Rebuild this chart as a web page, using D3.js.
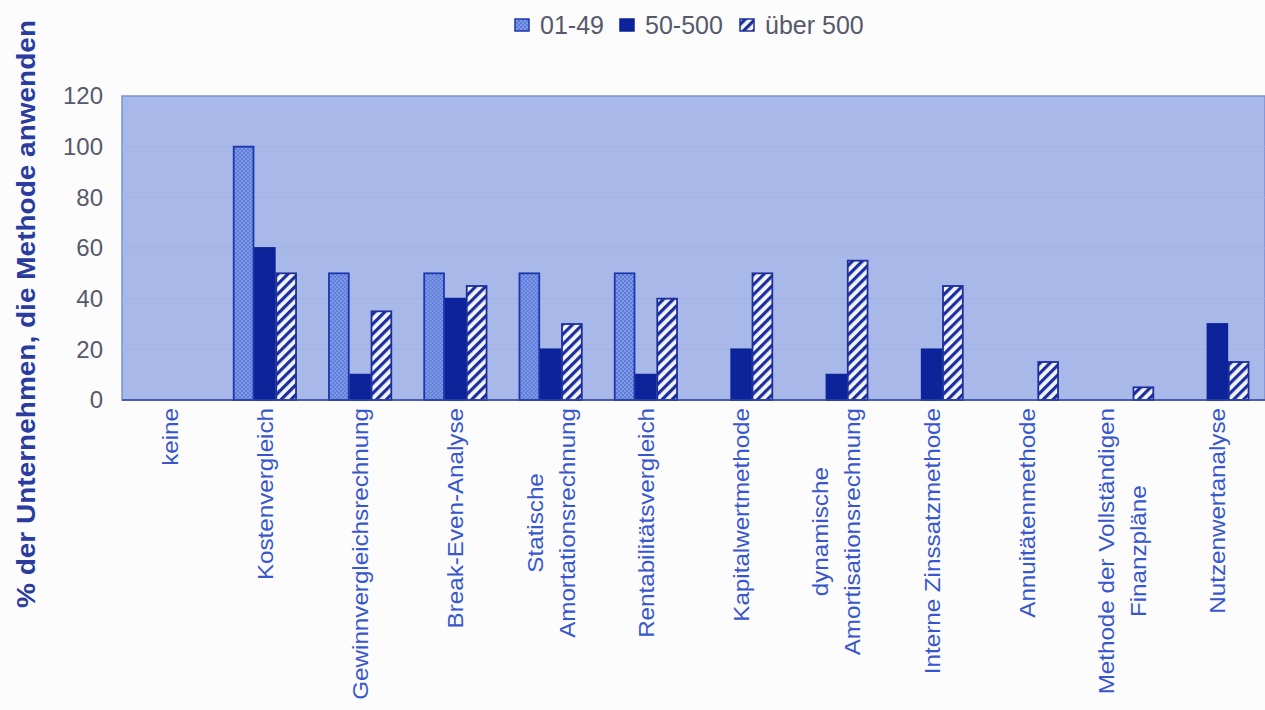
<!DOCTYPE html>
<html>
<head>
<meta charset="utf-8">
<script src="https://cdn.jsdelivr.net/npm/d3@7/dist/d3.min.js"></script>
<style>
  html, body { margin: 0; padding: 0; background: #fcfcfd; }
  svg { display: block; font-family: Arial, "Liberation Sans", sans-serif; }
</style>
</head>
<body>
<svg id="chart" width="1265" height="710"></svg>
<script>
// Investitionsrechenverfahren nach Unternehmensgröße (Anzahl Mitarbeiter)
const categories = [
  ["keine"],
  ["Kostenvergleich"],
  ["Gewinnvergleichsrechnung"],
  ["Break-Even-Analyse"],
  ["Statische", "Amortationsrechnung"],
  ["Rentabilitätsvergleich"],
  ["Kapitalwertmethode"],
  ["dynamische", "Amortisationsrechnung"],
  ["Interne Zinssatzmethode"],
  ["Annuitätenmethode"],
  ["Methode der Vollständigen", "Finanzpläne"],
  ["Nutzenwertanalyse"]
];
const seriesNames = ["01-49", "50-500", "über 500"];
const klein  = [0, 100, 50, 50, 50, 50, 0, 0, 0, 0, 0, 0];
const mittel = [0, 60, 10, 40, 20, 10, 20, 10, 20, 0, 0, 30];
const gross  = [0, 50, 35, 45, 30, 40, 50, 55, 45, 15, 5, 15];
const yTicks = [0, 20, 40, 60, 80, 100, 120];
const yTitle = "% der Unternehmen, die Methode anwenden";

const series = [klein, mittel, gross];
const catKeys = categories.map(c => c.join(" "));

const svg = d3.select("#chart");
const plot = { left: 122, right: 1265, top: 96, bottom: 400 };

const x = d3.scaleBand().domain(catKeys).range([plot.left, plot.right]).paddingInner(0.33).paddingOuter(0.165);
const xs = d3.scaleBand().domain(d3.range(series.length)).range([0, x.bandwidth()]);
const y = d3.scaleLinear().domain([0, 120]).range([plot.bottom, plot.top]);

// fill patterns
const defs = svg.append("defs");
const dots = defs.append("pattern").attr("id", "dots").attr("patternUnits", "userSpaceOnUse")
  .attr("width", 4).attr("height", 4);
dots.append("rect").attr("width", 4).attr("height", 4).attr("fill", "#5d7cdb");
dots.append("rect").attr("x", 0).attr("y", 0).attr("width", 2).attr("height", 2).attr("fill", "#819ae4");
dots.append("rect").attr("x", 2).attr("y", 2).attr("width", 2).attr("height", 2).attr("fill", "#819ae4");

const hatch = defs.append("pattern").attr("id", "hatch").attr("patternUnits", "userSpaceOnUse")
  .attr("width", 7).attr("height", 7).attr("patternTransform", "rotate(45)");
hatch.append("rect").attr("width", 7).attr("height", 7).attr("fill", "#f4f6fc");
hatch.append("rect").attr("x", 0).attr("width", 3.2).attr("height", 7).attr("fill", "#1c2f9c");

const fills = ["url(#dots)", "#0c2399", "url(#hatch)"];
const strokes = ["#1d36ad", "#0c2399", "#1c2f9c"];

// plot background
svg.append("rect")
  .attr("x", plot.left).attr("y", plot.top)
  .attr("width", plot.right - plot.left).attr("height", plot.bottom - plot.top)
  .attr("fill", "#a8b8e8").attr("stroke", "#7d90d2").attr("stroke-width", 1.5);

// faint gridlines
svg.append("g").selectAll("line").data(yTicks.slice(1, -1)).join("line")
  .attr("x1", plot.left).attr("x2", plot.right)
  .attr("y1", d => y(d)).attr("y2", d => y(d))
  .attr("stroke", "#a0b1e4").attr("stroke-width", 1);

// bars
const groups = svg.append("g").selectAll("g").data(catKeys).join("g")
  .attr("transform", d => `translate(${x(d)},0)`);
groups.selectAll("rect")
  .data((d, i) => series.map((s, k) => ({ k, v: s[i] })).filter(e => e.v > 0))
  .join("rect")
  .attr("x", e => xs(e.k) + 0.75)
  .attr("width", xs.bandwidth() - 1.5)
  .attr("y", e => y(e.v))
  .attr("height", e => y(0) - y(e.v))
  .attr("fill", e => fills[e.k])
  .attr("stroke", e => strokes[e.k])
  .attr("stroke-width", 1.8);

// baseline
svg.append("line")
  .attr("x1", plot.left).attr("x2", plot.right)
  .attr("y1", y(0)).attr("y2", y(0))
  .attr("stroke", "#2f46a6").attr("stroke-width", 1.5);

// y axis ticks
const yAxis = d3.axisLeft(y).tickValues(yTicks).tickSize(0).tickPadding(19);
const ya = svg.append("g").attr("transform", `translate(${plot.left},0)`).call(yAxis);
ya.select(".domain").remove();
ya.selectAll("text").attr("font-size", 24).attr("fill", "#58596a").attr("font-family", "Arial, 'Liberation Sans', sans-serif");

// y title
svg.append("text")
  .attr("transform", `translate(35,314) rotate(-90)`)
  .attr("text-anchor", "middle")
  .attr("font-size", 25).attr("font-weight", "bold").attr("fill", "#2a3d9e")
  .attr("textLength", 588).attr("lengthAdjust", "spacingAndGlyphs")
  .text(yTitle);

// category labels, rotated, multi-line centred on the longest line
const lineGap = 32;
const stretch = 1.1;
categories.forEach((lines, i) => {
  const cx = x(catKeys[i]) + x.bandwidth() / 2;
  const g = svg.append("g").attr("transform", `translate(${cx},408) rotate(-90) scale(${stretch},1)`);
  const n = lines.length;
  const texts = lines.map((t, j) => g.append("text")
    .attr("font-size", 22).attr("fill", "#3857cc")
    .attr("text-anchor", "middle")
    .attr("y", (j - (n - 1) / 2) * lineGap + 8)
    .text(t));
  const maxLen = d3.max(texts, t => t.node().getComputedTextLength());
  texts.forEach(t => t.attr("x", -maxLen / 2));
});

// legend
const legendItems = [
  { sx: 515, tx: 540 },
  { sx: 620, tx: 645 },
  { sx: 740, tx: 765 }
];
const lg = svg.append("g");
seriesNames.forEach((name, k) => {
  lg.append("rect")
    .attr("x", legendItems[k].sx).attr("y", 19).attr("width", 14).attr("height", 12)
    .attr("fill", fills[k]).attr("stroke", strokes[k]).attr("stroke-width", 1.5);
  lg.append("text")
    .attr("x", legendItems[k].tx).attr("y", 34)
    .attr("font-size", 25).attr("fill", "#56596a")
    .text(name);
});
</script>
</body>
</html>
